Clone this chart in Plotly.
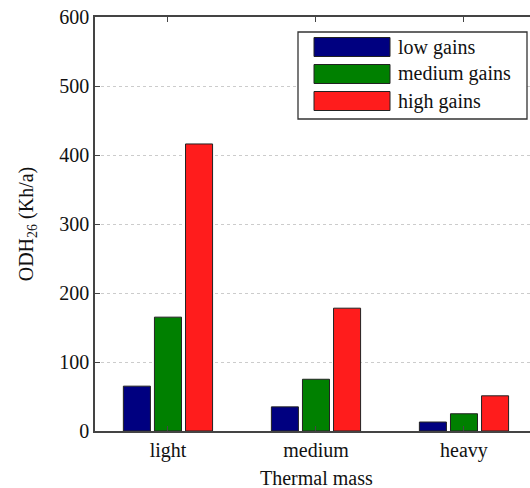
import plotly.graph_objects as go

categories = ["light", "medium", "heavy"]
series_names = ["low gains", "medium gains", "high gains"]
low_gains = [65, 35, 13]
medium_gains = [165, 75, 25]
high_gains = [416, 178, 51]
y_ticks = [0, 100, 200, 300, 400, 500, 600]
colors = ["#000080", "#008000", "#ff1c1c"]

W, H = 530, 488
L, R, T, B = 95, 0, 17, 57
FONT = "Liberation Serif"
FS = 20
TC = "#111"

fig = go.Figure()
for name, vals, col in zip(series_names, [low_gains, medium_gains, high_gains], colors):
    fig.add_trace(go.Bar(
        x=categories, y=vals, name=name, marker=dict(color=col, line=dict(color="#222", width=1)),
        showlegend=False,
    ))

pw, ph = W - L - R, H - T - B
def px(x):
    return (x - L) / pw
def py(y):
    return (H - B - y) / ph

shapes = [dict(type="rect", xref="paper", yref="paper", x0=px(298), x1=px(527), y0=py(119), y1=py(32),
               line=dict(color="#333", width=1.3), fillcolor="white", layer="above")]
annotations = []
rows = [47, 74, 101]
for name, col, yc in zip(series_names, colors, rows):
    shapes.append(dict(type="rect", xref="paper", yref="paper", x0=px(314), x1=px(390),
                       y0=py(yc + 9.5), y1=py(yc - 9.5), line=dict(color="#222", width=1),
                       fillcolor=col, layer="above"))
    annotations.append(dict(x=px(396), y=py(yc), xref="paper", yref="paper", text=name,
                            showarrow=False, xanchor="left", yanchor="middle",
                            font=dict(family=FONT, size=FS, color=TC)))

annotations.append(dict(x=px(316), y=py(478), xref="paper", yref="paper", text="Thermal mass",
                        showarrow=False, xanchor="center", yanchor="middle",
                        font=dict(family=FONT, size=FS, color=TC)))

fig.update_layout(
    width=W, height=H, margin=dict(l=L, r=R, t=T, b=B),
    paper_bgcolor="white", plot_bgcolor="white",
    barmode="group", bargap=0.37, bargroupgap=0.13,
    font=dict(family=FONT, size=FS, color=TC),
    shapes=shapes, annotations=annotations,
    xaxis=dict(range=[-0.493, 2.446], showline=True, linecolor="#444", linewidth=1.5,
               mirror="ticks", ticks="inside", ticklen=5, tickcolor="#444", showgrid=False,
               tickfont=dict(family=FONT, size=FS, color=TC)),
    yaxis=dict(range=[0, 600], tickvals=y_ticks, showline=True, linecolor="#444", linewidth=1.5,
               ticks="inside", ticklen=5, tickcolor="#444", showgrid=True,
               gridcolor="#cccccc", griddash="dot", gridwidth=1, zeroline=False,
               tickfont=dict(family=FONT, size=FS, color=TC),
               title=dict(text="ODH<sub>26</sub> (Kh/a)", standoff=20,
                          font=dict(family=FONT, size=FS, color=TC))),
)

fig.write_html("out.html")
